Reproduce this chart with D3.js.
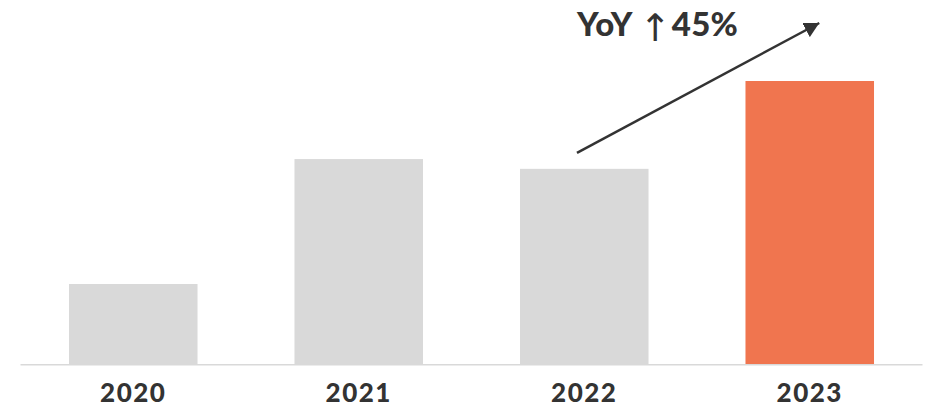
<!DOCTYPE html>
<html>
<head>
<meta charset="utf-8">
<script src="https://cdn.jsdelivr.net/npm/d3@7"></script>
<style>
  body { margin: 0; background: #fff; }
  text { font-family: Lato, "DejaVu Sans", sans-serif; fill: #333; }
</style>
</head>
<body>
<svg id="chart" width="928" height="407"></svg>
<script>
const years = ["2020", "2021", "2022", "2023"];
const sales = [41, 105, 100, 145];
const highlight = "2023";
const growthLabel = "45%";

const width = 928, height = 407;
const baseY = 364;

const svg = d3.select("#chart");

const x = d3.scaleBand()
  .domain(years)
  .range([20.5, 922.5])
  .paddingInner(0.43)
  .paddingOuter(0.215);

const y = d3.scaleLinear()
  .domain([0, 145])
  .range([baseY, 81]);

// bars
svg.append("g")
  .selectAll("rect")
  .data(years)
  .join("rect")
  .attr("x", d => x(d))
  .attr("y", (d, i) => y(sales[i]))
  .attr("width", x.bandwidth())
  .attr("height", (d, i) => y(0) - y(sales[i]))
  .attr("fill", d => d === highlight ? "#f0754f" : "#d9d9d9");

// baseline
svg.append("line")
  .attr("x1", x.range()[0])
  .attr("x2", x.range()[1])
  .attr("y1", y(0) + 0.75)
  .attr("y2", y(0) + 0.75)
  .attr("stroke", "#d9d9d9")
  .attr("stroke-width", 1.5);

// year labels
svg.append("g")
  .selectAll("text")
  .data(years)
  .join("text")
  .attr("x", d => x(d) + x.bandwidth() / 2)
  .attr("y", 402)
  .attr("text-anchor", "middle")
  .style("font-size", "26px")
  .style("font-weight", 900)
  .style("letter-spacing", "1.5px")
  .text(d => d);

// growth arrow
svg.append("defs").append("marker")
  .attr("id", "head")
  .attr("markerUnits", "userSpaceOnUse")
  .attr("viewBox", "0 0 15 16")
  .attr("refX", 15)
  .attr("refY", 8)
  .attr("markerWidth", 15)
  .attr("markerHeight", 16)
  .attr("orient", "auto")
  .append("path")
  .attr("d", "M0,0 L15,8 L0,16 Z")
  .attr("fill", "#333");

const from = x("2022") + 57, to = x("2023") + x.bandwidth() / 2 + 9.5;
svg.append("line")
  .attr("x1", from)
  .attr("y1", y(sales[2]) - 16)
  .attr("x2", to)
  .attr("y2", y(sales[3]) - 58)
  .attr("stroke", "#333")
  .attr("stroke-width", 2.5)
  .attr("marker-end", "url(#head)");

const label = svg.append("text")
  .attr("x", from)
  .attr("y", 36)
  .style("font-size", "33px")
  .style("font-weight", 900)
  .style("letter-spacing", "0.3px");
label.append("tspan").text("YoY ");
label.append("tspan")
  .attr("dy", 5)
  .style("font-weight", 400)
  .style("font-size", "38px")
  .style("font-family", "'DejaVu Sans'")
  .text("↑");
label.append("tspan").attr("dy", -5).text(growthLabel);
</script>
</body>
</html>
